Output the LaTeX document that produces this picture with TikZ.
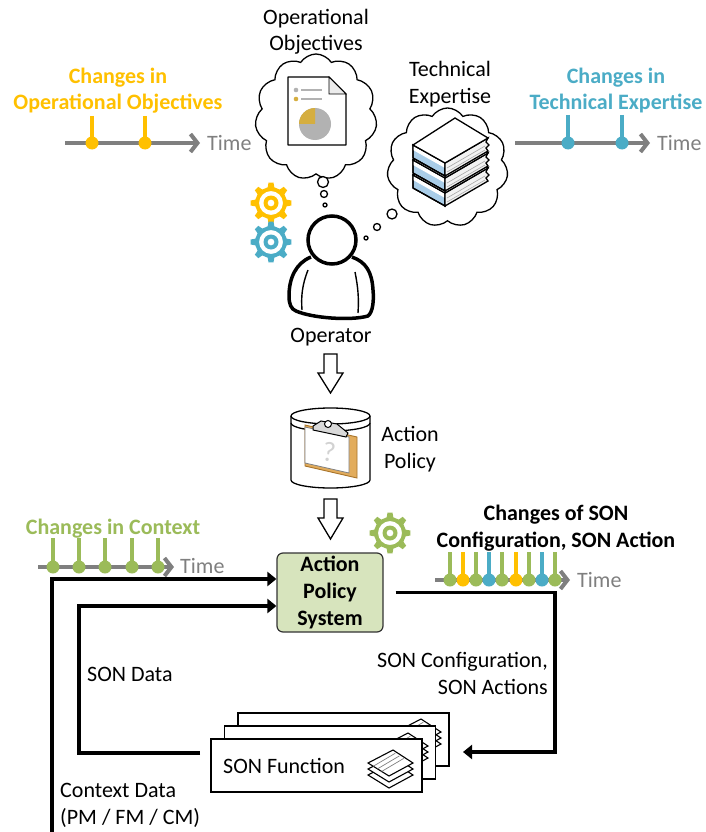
\documentclass[tikz,border=0pt]{standalone}
\usepackage{fontspec}
\setmainfont{Carlito}
\usetikzlibrary{arrows.meta,shapes.symbols,calc}

\definecolor{cOrange}{HTML}{FFC000}
\definecolor{cBlue}{HTML}{4BACC6}
\definecolor{cGreen}{HTML}{9BBB59}
\definecolor{cGray}{HTML}{7F7F7F}
\definecolor{cAps}{HTML}{D7E4BD}
\definecolor{cGold}{HTML}{D5AE40}
\definecolor{cPie}{HTML}{B2B2B2}
\definecolor{cBoard}{HTML}{E2AC5C}
\definecolor{cBoardDark}{HTML}{A8742A}
\definecolor{cPages}{HTML}{A9CDE8}
\definecolor{cCover}{HTML}{F2F2F2}

\tikzset{
  lbl/.style={inner sep=0pt, align=center},
  chg/.style={lbl, font=\fontsize{22}{26.5}\selectfont\bfseries},
  timelbl/.style={inner sep=0pt, text=cGray, anchor=base west},
  tline/.style={cGray, line width=4, -{Straight Barb[length=7pt,width=18pt]}},
  conn/.style={line width=3.5, -{Triangle[length=9pt,width=14pt]}},
  thin/.style={line width=1.3},
  bubble/.style={thin, fill=white},
  hollow/.style={thin, fill=white, line join=miter},
  sonbox/.style={draw, thin, fill=white, minimum width=211, minimum height=53, inner sep=0pt},
  pics/gear/.style={code={
    \fill[#1, even odd rule] (-12:16)
      \foreach \i in {0,...,7}{
        -- ({\i*45-12}:16) -- ({\i*45-7}:20.5) -- ({\i*45+7}:20.5) -- ({\i*45+12}:16) -- ({\i*45+33}:16)
      } -- cycle
      (0,0) circle (12) (0,0) circle (7.5) (0,0) circle (3.5);
  }},
  pics/book/.style={code={
    % pages on the left face, cover edge on the right face, then the top face
    \filldraw[thin, fill=cPages] (0,27) -- (32,45) -- (32,58) -- (0,40) -- cycle;
    \fill[white] (0,27) -- (32,45) -- (32,50) -- (0,32) -- cycle;
    \draw[thin] (0,27) -- (32,45) -- (32,58) -- (0,40) -- cycle;
    \filldraw[thin, fill=cCover] (32,45) -- (75,20) -- (73,24) -- (76,27) -- (73,30) -- (75,33) -- (32,58) -- cycle;
    \draw[line width=0.6, gray!70] (34,50) -- (72,28) (34,54) -- (72,32);
    \filldraw[thin, fill=white] (0,27) -- (42,0) -- (75,20) -- (32,45) -- cycle;
  }},
  pics/sheets/.style={code={
    \foreach \k in {12,6,0}{
      \filldraw[line width=1.1, fill=white] (-22,{13+\k}) -- (3,{\k}) -- (23,{13+\k}) -- (-1,{26+\k}) -- cycle;
    }
    \foreach \t in {0.25,0.45,0.65}{
      \draw[line width=0.7, gray] ($(-22,13)!\t!(-1,26)$) -- ++(22,-13);
    }
  }}
}

\begin{document}
\begin{tikzpicture}[x=1pt, y=-1pt, font=\fontsize{22}{26.5}\selectfont]
\useasboundingbox (0,0) rectangle (705,832);

% ---------- timeline: operational objectives ----------
\node[chg, text=cOrange, anchor=base] (chgoo) at (118,110) {Changes in\\Operational Objectives};
\coordinate (t1s) at (65,143);
\coordinate (t1e) at (200,143);
\draw[tline] (t1s) -- (t1e);
\foreach \x in {92,145}{
  \draw[cOrange, line width=4] (\x,116) -- (\x,143);
  \fill[cOrange] (\x,143) circle (6.5);
}
\node[timelbl] (time1) at (207,150) {Time};

% ---------- timeline: technical expertise ----------
\node[chg, text=cBlue, anchor=base] (chgte) at (616,110) {Changes in\\Technical Expertise};
\coordinate (t2s) at (515,143);
\coordinate (t2e) at (650,143);
\draw[tline] (t2s) -- (t2e);
\foreach \x in {568,622}{
  \draw[cBlue, line width=4] (\x,115) -- (\x,143);
  \fill[cBlue] (\x,143) circle (6.5);
}
\node[timelbl] (time2) at (657,150) {Time};

% ---------- thought cloud: operational objectives ----------
\node[lbl, anchor=base] (oolbl) at (316,51) {Operational\\Objectives};
\node[cloud, draw, thin, fill=white, cloud puffs=11, cloud puff arc=115, cloud ignores aspect,
      minimum width=122, minimum height=126, inner sep=0pt] (cloudoo) at (316,117) {};
\draw[bubble] (323,182) circle (5.5);
\draw[bubble] (324,194) circle (3.5);
\draw[bubble] (325,205) circle (2);
% document with pie chart
\filldraw[thin, fill=white, line join=round] (288,77) -- (329,77) -- (346,94) -- (346,145) -- (288,145) -- cycle;
\filldraw[line width=0.8, fill=gray!15] (329,77) -- (329,94) -- (346,94) -- cycle;
\fill[cPie] (296,90) circle (2.3);
\fill[cGold] (296,99) circle (2.3);
\draw[cPie, line width=1.2] (301,90) -- (322,90) (301,99) -- (322,99);
\fill[cPie] (315,124) circle (16);
\fill[cGold] (315,124) -- ++(-16,0) arc[start angle=180, end angle=270, radius=16] -- cycle;

% ---------- thought cloud: technical expertise ----------
\node[lbl, anchor=base] (telbl) at (450,103) {Technical\\Expertise};
\node[cloud, draw, thin, fill=white, cloud puffs=11, cloud puff arc=115, cloud ignores aspect,
      minimum width=121, minimum height=119, inner sep=0pt] (cloudte) at (447.5,167.5) {};
\draw[bubble] (392,214) circle (5);
\draw[bubble] (377,227) circle (3.5);
\draw[bubble] (366,238) circle (2);
% stack of books
\pic at (413,148) {book};
\pic at (413,133) {book};
\pic at (413,118) {book};

% ---------- gears and operator ----------
\pic at (271,203) {gear=cOrange};
\pic at (271,242) {gear=cBlue};

\draw[line width=3.5, fill=white, line join=round]
  (311,257) .. controls (296,263) and (289,278) .. (289,296)
  .. controls (289,304) and (291,309) .. (296,311)
  .. controls (312,318) and (350,321) .. (368,316)
  .. controls (373,312) and (374,300) .. (373,290)
  .. controls (372,272) and (366,262) .. (352,257);
\draw[line width=3.5, fill=white] (332,240) circle (24);
\draw[line width=1.4] (308,270) .. controls (302,285) and (301,297) .. (302,310);
\draw[line width=1.4] (355,272) .. controls (358,287) and (359,298) .. (358,313);
\node[lbl, anchor=base] (operator) at (331,342) {Operator};

\draw[hollow] (324,354) -- (337,354) -- (337,373) -- (343,373) -- (330.5,393) -- (318,373) -- (324,373) -- cycle;

% ---------- action policy (cylinder with clipboard) ----------
\fill[white] (291,416) -- (291,480) arc[start angle=180, end angle=0, x radius=39.5, y radius=8] -- (370,416) -- cycle;
\draw[thin] (291,416) -- (291,480) arc[start angle=180, end angle=0, x radius=39.5, y radius=8] -- (370,416);
\draw[thin, fill=white] (330.5,416) ellipse[x radius=39.5, y radius=8];
\draw[thin] (291,423) arc[start angle=180, end angle=0, x radius=39.5, y radius=8];
\filldraw[line width=0.9, draw=cBoardDark, fill=cBoard] (305,425) -- (357,437) -- (357,478) -- (305,466) -- cycle;
\filldraw[line width=0.8, draw=gray, fill=white] (305,427) -- (349,437) -- (349,473) -- (305,463) -- cycle;
\node[inner sep=0pt, text=gray!35, rotate=-8] (qmark) at (329,452) {\fontsize{28}{28}\selectfont ?};
\filldraw[line width=1, fill=gray!30] (313,426) -- (321,421) -- (337,424) -- (348,433) -- (346,437) -- (313,430) -- cycle;
\draw[line width=1, fill=white] (328,424) circle (3.5);
\node[lbl, anchor=base] (aplbl) at (410,468) {Action\\Policy};

\draw[hollow] (324,499) -- (337,499) -- (337,518) -- (343,518) -- (330.5,539) -- (318,518) -- (324,518) -- cycle;

% ---------- action policy system ----------
\pic at (390,533) {gear=cGreen};
\node[draw=black!80, line width=1.2, fill=cAps, rounded corners=6, minimum width=106, minimum height=79,
      inner sep=0pt, align=center, font=\fontsize{22}{27}\selectfont\bfseries] (aps) at (330,592.5)
      {Action\\Policy\\System};

% ---------- timeline: context ----------
\node[chg, text=cGreen, anchor=base] (chgctx) at (113,534) {Changes in Context};
\coordinate (t3s) at (38,567);
\coordinate (t3e) at (174,567);
\draw[tline] (t3s) -- (t3e);
\foreach \x in {53,79,105,132,158}{
  \draw[cGreen, line width=4] (\x,538) -- (\x,567);
  \fill[cGreen] (\x,567) circle (6.5);
}
\node[timelbl] (time3) at (180,573) {Time};

% ---------- timeline: SON configuration / actions ----------
\node[chg, text=black, anchor=base] (chgson) at (556,547) {Changes of SON\\Configuration, SON Action};
\coordinate (t4s) at (435,580);
\coordinate (t4e) at (570,580);
\draw[tline] (t4s) -- (t4e);
\foreach \x/\c in {450/cGreen,463/cOrange,476/cGreen,489/cBlue,502/cGreen,516/cOrange,529/cGreen,542/cBlue,555/cGreen}{
  \draw[\c, line width=4] (\x,552) -- (\x,580);
  \fill[\c] (\x,580) circle (6.5);
}
\node[timelbl] (time4) at (577,587) {Time};

% ---------- SON function instances ----------
\node[sonbox] (sonf3) at (343.5,739.5) {};
\pic at (418,719) {sheets};
\node[sonbox] (sonf2) at (330,752.5) {};
\pic at (405,733) {sheets};
\node[sonbox] (sonf) at (316.5,765.5) {};
\pic at (390,750) {sheets};
\node[inner sep=0pt, anchor=base west] (sonflbl) at (223,773) {SON Function};

% ---------- data flows ----------
\coordinate (ctxsrc) at (52,832);
\draw[conn] (ctxsrc) |- ([yshift=13.5pt]aps.west);
\node[inner sep=0pt, anchor=base west, align=left] (ctxlbl) at (60,824) {Context Data\\(PM / FM / CM)};

\coordinate (sdsrc) at (200,753);
\draw[conn] (sdsrc) -- ++(-121,0) |- ([yshift=-13.5pt]aps.west);
\node[inner sep=0pt, anchor=base west] (sdlbl) at (87,681) {SON Data};

\coordinate (apsout) at ([xshift=12pt]aps.east);
\coordinate (sonin) at (463,752);
\draw[conn] (apsout) -| (555,660) |- (sonin);
\node[inner sep=0pt, anchor=base east, align=right] (cfglbl) at (548,694) {SON Configuration,\\SON Actions};

\end{tikzpicture}
\end{document}
